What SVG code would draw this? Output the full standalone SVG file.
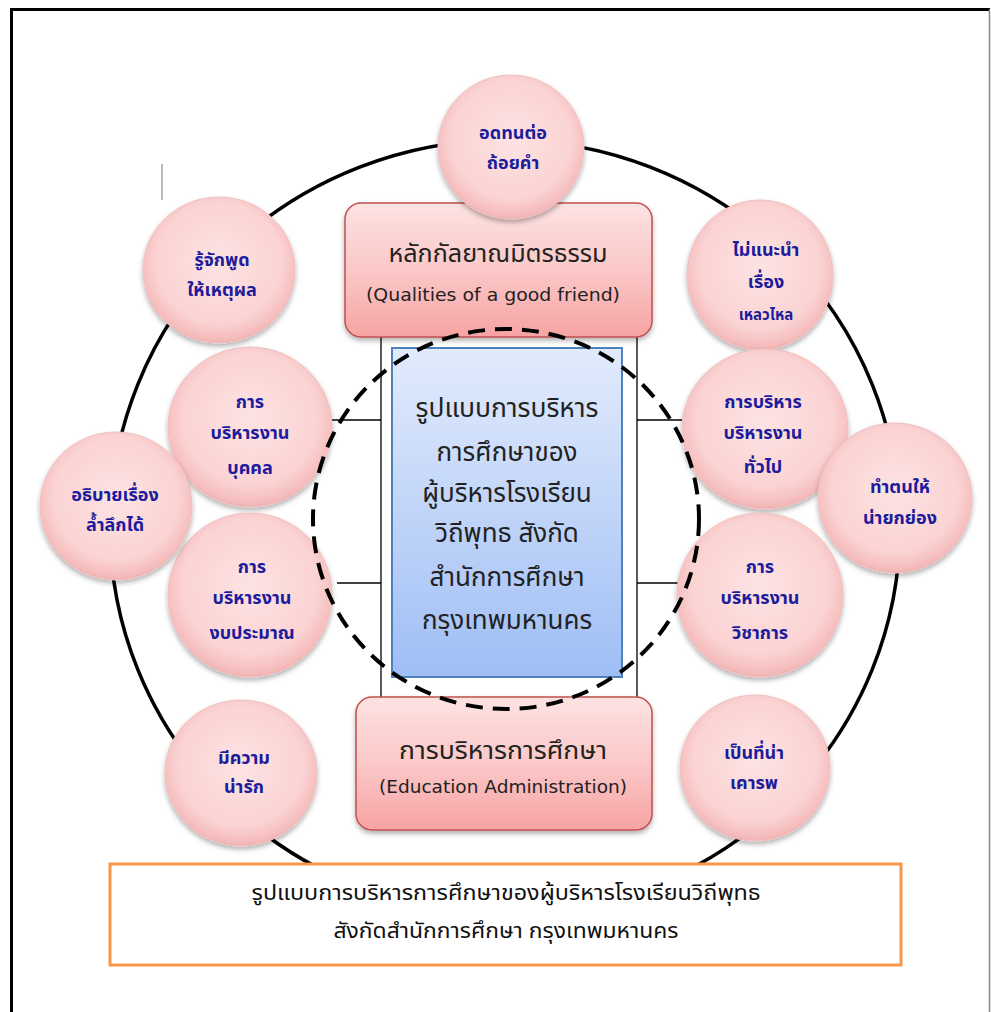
<svg xmlns="http://www.w3.org/2000/svg" width="991" height="1012" viewBox="0 0 991 1012">
<defs>
  <radialGradient id="gCircle" cx="50%" cy="45%" r="55%">
    <stop offset="0" stop-color="#fde3e3"/>
    <stop offset="0.75" stop-color="#fbd3d3"/>
    <stop offset="0.95" stop-color="#f5bcbc"/>
    <stop offset="1" stop-color="#eeb0b0"/>
  </radialGradient>
  <linearGradient id="gPink" x1="0" y1="0" x2="0" y2="1">
    <stop offset="0" stop-color="#fde2e2"/>
    <stop offset="0.5" stop-color="#fbc8c8"/>
    <stop offset="1" stop-color="#f7a3a3"/>
  </linearGradient>
  <linearGradient id="gBlue" x1="0" y1="0" x2="0" y2="1">
    <stop offset="0" stop-color="#e2ebfc"/>
    <stop offset="1" stop-color="#9fbef5"/>
  </linearGradient>
  <filter id="shadow" x="-20%" y="-20%" width="140%" height="150%">
    <feDropShadow dx="0" dy="3" stdDeviation="2.5" flood-color="#000" flood-opacity="0.3"/>
  </filter>
  <style>
    .frame{stroke:#000;stroke-width:3;fill:none}
    .ring{fill:none;stroke:#000;stroke-width:3.5}
    .conn{stroke:#000;stroke-width:1.3;fill:none}
    .dash{fill:none;stroke:#000;stroke-width:4;stroke-dasharray:17 10}
    .circ{fill:url(#gCircle);stroke:#f0c0c0;stroke-width:1;filter:url(#shadow)}
    .pbox{fill:url(#gPink);stroke:#c0504d;stroke-width:1.5;filter:url(#shadow)}
    .bbox{fill:url(#gBlue);stroke:#4f81bd;stroke-width:2}
    .ct{font-family:"Noto Sans Thai","Tahoma","DejaVu Sans",sans-serif;font-weight:bold;font-size:18px;fill:#1c1c9c;text-anchor:middle}
    .bt{font-family:"Noto Sans Thai","Tahoma","DejaVu Sans",sans-serif;font-size:24px;fill:#222;text-anchor:middle}
    .st{font-family:"Tahoma","DejaVu Sans","Liberation Sans",sans-serif;font-size:17px;fill:#222;text-anchor:middle}
    .mt{font-family:"Noto Sans Thai","Tahoma","DejaVu Sans",sans-serif;font-size:26px;fill:#222;text-anchor:middle}
    .ft{font-family:"Noto Sans Thai","Tahoma","DejaVu Sans",sans-serif;font-size:21px;fill:#111;text-anchor:middle}
  </style>
</defs>
<rect x="0" y="0" width="991" height="1012" fill="#fff"/>
<g id="frame">
  <path class="frame" d="M11.5,1012 V9.5 H990"/>
  <line x1="989.5" y1="9" x2="989.5" y2="1012" stroke="#888" stroke-width="1.5"/>
  <line x1="162" y1="164" x2="162" y2="200" stroke="#777" stroke-width="1"/>
</g>
<g id="ring">
  <ellipse class="ring" cx="505" cy="527" rx="395" ry="387"/>
</g>
<g id="connectors">
  <line class="conn" x1="381" y1="337" x2="381" y2="700"/>
  <line class="conn" x1="637" y1="337" x2="637" y2="700"/>
  <line class="conn" x1="332" y1="420" x2="381" y2="420"/>
  <line class="conn" x1="337" y1="583" x2="381" y2="583"/>
  <line class="conn" x1="637" y1="420" x2="682" y2="420"/>
  <line class="conn" x1="637" y1="583" x2="678" y2="583"/>
</g>
<g id="center">
  <rect class="bbox" x="392" y="348" width="230" height="329"/>
  <text class="mt" x="507" y="417" textLength="183" lengthAdjust="spacingAndGlyphs">รูปแบบการบริหาร</text>
  <text class="mt" x="507" y="461">การศึกษาของ</text>
  <text class="mt" x="507" y="502">ผู้บริหารโรงเรียน</text>
  <text class="mt" x="507" y="542">วิถีพุทธ สังกัด</text>
  <text class="mt" x="507" y="586">สำนักการศึกษา</text>
  <text class="mt" x="507" y="629">กรุงเทพมหานคร</text>
</g>
<g id="box-friend">
  <rect class="pbox" x="345" y="203" width="307" height="134" rx="16"/>
  <text class="bt" x="498" y="262" textLength="219" lengthAdjust="spacingAndGlyphs">หลักกัลยาณมิตรธรรม</text>
  <text class="st" x="493" y="301" textLength="254" lengthAdjust="spacingAndGlyphs">(Qualities of a good friend)</text>
</g>
<g id="box-admin">
  <rect class="pbox" x="356" y="697" width="296" height="133" rx="16"/>
  <text class="bt" x="503" y="759" textLength="208" lengthAdjust="spacingAndGlyphs">การบริหารการศึกษา</text>
  <text class="st" x="503" y="793" textLength="248" lengthAdjust="spacingAndGlyphs">(Education Administration)</text>
</g>
<g id="n-top">
  <ellipse class="circ" cx="511" cy="147" rx="73" ry="72"/>
  <text class="ct" x="513" y="139">อดทนต่อ</text>
  <text class="ct" x="513" y="169">ถ้อยคำ</text>
</g>
<g id="n-speak">
  <ellipse class="circ" cx="219" cy="270" rx="76" ry="73"/>
  <text class="ct" x="222" y="266">รู้จักพูด</text>
  <text class="ct" x="222" y="296">ให้เหตุผล</text>
</g>
<g id="n-advise">
  <ellipse class="circ" cx="760" cy="275" rx="73" ry="75"/>
  <text class="ct" x="766" y="256">ไม่แนะนำ</text>
  <text class="ct" x="766" y="288">เรื่อง</text>
  <text class="ct" x="766" y="320" style="font-size:15px">เหลวไหล</text>
</g>
<g id="n-personnel">
  <ellipse class="circ" cx="250" cy="427" rx="82" ry="80"/>
  <text class="ct" x="250" y="408">การ</text>
  <text class="ct" x="250" y="439">บริหารงาน</text>
  <text class="ct" x="250" y="474">บุคคล</text>
</g>
<g id="n-budget">
  <ellipse class="circ" cx="250" cy="595" rx="82" ry="82"/>
  <text class="ct" x="252" y="573">การ</text>
  <text class="ct" x="252" y="604">บริหารงาน</text>
  <text class="ct" x="252" y="639">งบประมาณ</text>
</g>
<g id="n-general">
  <ellipse class="circ" cx="765" cy="429" rx="83" ry="80"/>
  <text class="ct" x="763" y="408">การบริหาร</text>
  <text class="ct" x="763" y="439">บริหารงาน</text>
  <text class="ct" x="763" y="473">ทั่วไป</text>
</g>
<g id="n-academic">
  <ellipse class="circ" cx="760" cy="595" rx="83" ry="82"/>
  <text class="ct" x="760" y="573">การ</text>
  <text class="ct" x="760" y="604">บริหารงาน</text>
  <text class="ct" x="760" y="639">วิชาการ</text>
</g>
<g id="n-explain">
  <ellipse class="circ" cx="116" cy="506" rx="76" ry="74"/>
  <text class="ct" x="115" y="501">อธิบายเรื่อง</text>
  <text class="ct" x="115" y="531">ล้ำลึกได้</text>
</g>
<g id="n-respect">
  <ellipse class="circ" cx="895" cy="498" rx="77" ry="75"/>
  <text class="ct" x="900" y="493">ทำตนให้</text>
  <text class="ct" x="900" y="524">น่ายกย่อง</text>
</g>
<g id="n-lovely">
  <ellipse class="circ" cx="241" cy="773" rx="76" ry="73"/>
  <text class="ct" x="244" y="764">มีความ</text>
  <text class="ct" x="244" y="793">น่ารัก</text>
</g>
<g id="n-honor">
  <ellipse class="circ" cx="755" cy="768" rx="75" ry="73"/>
  <text class="ct" x="754" y="759">เป็นที่น่า</text>
  <text class="ct" x="754" y="789">เคารพ</text>
</g>
<g id="dashed-ring">
  <ellipse class="dash" cx="506" cy="519" rx="193" ry="190"/>
</g>
<g id="caption">
  <rect x="110" y="864" width="791" height="101" fill="#fff" stroke="#f79646" stroke-width="3"/>
  <text class="ft" x="506" y="900" textLength="509" lengthAdjust="spacingAndGlyphs">รูปแบบการบริหารการศึกษาของผู้บริหารโรงเรียนวิถีพุทธ</text>
  <text class="ft" x="506" y="938" textLength="345" lengthAdjust="spacingAndGlyphs">สังกัดสำนักการศึกษา กรุงเทพมหานคร</text>
</g>
</svg>
